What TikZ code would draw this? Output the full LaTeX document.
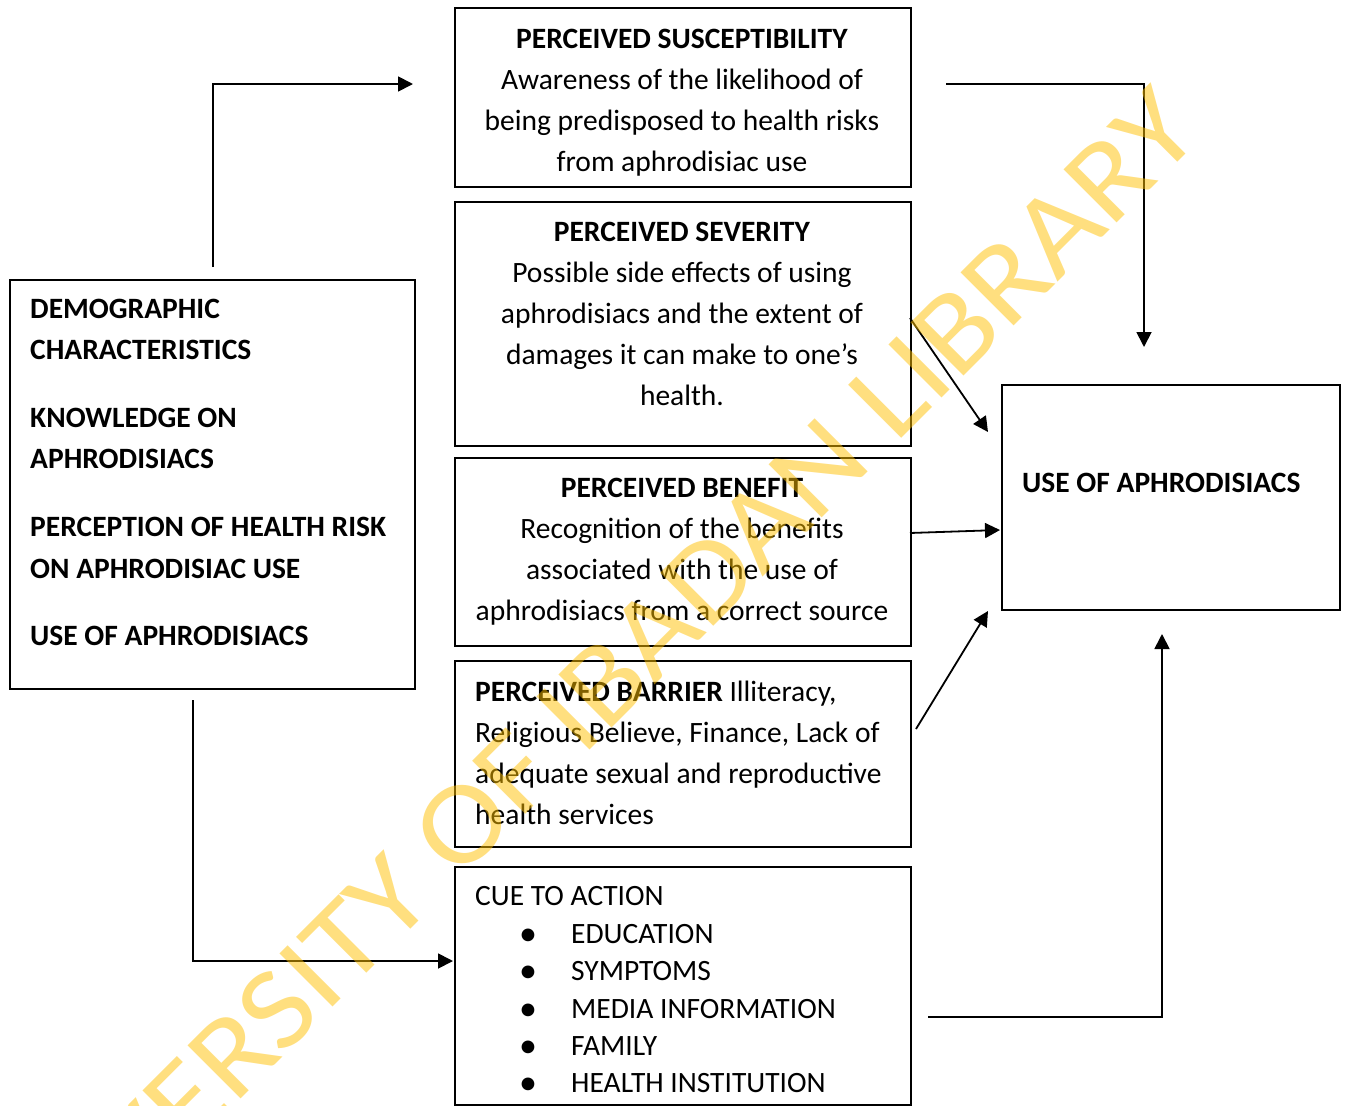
\documentclass[tikz,border=0pt]{standalone}
\usepackage{fontspec}
\setmainfont{Carlito}
\usetikzlibrary{arrows.meta}
\definecolor{wm}{RGB}{255,192,0}
\newcommand{\mybul}{{\fontsize{36}{36}\selectfont\textbullet}}
\newcommand{\cueitem}[1]{\hspace*{53pt}\makebox[0pt]{\raisebox{-2pt}{\mybul}}\hspace*{43pt}#1}
\begin{document}
\begin{tikzpicture}[x=1pt,y=-1pt,
  box/.style={draw, line width=1.8pt, inner sep=0pt, anchor=north west},
  txt/.style={inner sep=0pt, font=\fontsize{29.5}{41}\selectfont},
  arr/.style={line width=1.8pt, -{Triangle[length=15pt,width=15pt]}}]
\useasboundingbox[fill=white] (0,0) rectangle (1345,1106);
% boxes
\node[box, minimum width=456pt, minimum height=179pt] (sus) at (454,7) {};
\node[box, minimum width=456pt, minimum height=244pt] (sev) at (454,201) {};
\node[box, minimum width=456pt, minimum height=188pt] (ben) at (454,457) {};
\node[box, minimum width=456pt, minimum height=186pt] (bar) at (454,660) {};
\node[box, minimum width=456pt, minimum height=238pt] (cue) at (454,866) {};
\node[box, minimum width=405pt, minimum height=409pt] (demo) at (9,279) {};
\node[box, minimum width=338pt, minimum height=225pt] (use) at (1001,384) {};
% texts
\node[txt, align=center, anchor=north] (sust) at (682,28.5)
  {\textbf{PERCEIVED SUSCEPTIBILITY}\\Awareness of the likelihood of\\being predisposed to health risks\\from aphrodisiac use};
\node[txt, align=center, anchor=north] (sevt) at (682,221.5)
  {\textbf{PERCEIVED SEVERITY}\\Possible side effects of using\\aphrodisiacs and the extent of\\damages it can make to one’s\\health.};
\node[txt, align=center, anchor=north] (bent) at (682,477.5)
  {\textbf{PERCEIVED BENEFIT}\\Recognition of the benefits\\associated with the use of\\aphrodisiacs from a correct source};
\node[txt, align=left, anchor=north west] (bart) at (475,680.5)
  {\textbf{PERCEIVED BARRIER} Illiteracy,\\Religious Believe, Finance, Lack of\\adequate sexual and reproductive\\health services};
\node[txt, align=left, anchor=north west, font=\fontsize{29.5}{37.4}\selectfont] (cuet) at (475,886.5)
  {CUE TO ACTION\\\cueitem{EDUCATION}\\\cueitem{SYMPTOMS}\\\cueitem{MEDIA INFORMATION}\\\cueitem{FAMILY}\\\cueitem{HEALTH INSTITUTION}};
\node[txt, align=left, anchor=north west, font=\fontsize{29.5}{41.7}\selectfont\bfseries] (demot) at (30,298.5)
  {DEMOGRAPHIC\\CHARACTERISTICS\\[25.8pt]KNOWLEDGE ON\\APHRODISIACS\\[25.8pt]PERCEPTION OF HEALTH RISK\\ON APHRODISIAC USE\\[25.8pt]USE OF APHRODISIACS};
\node[txt, anchor=north west, font=\fontsize{29.5}{41}\selectfont\bfseries] (uset) at (1022,472.5)
  {USE OF APHRODISIACS};
% connectors
\coordinate (a1s) at (213,267); \coordinate (a1e) at (413,84);
\coordinate (a2s) at (946,84);  \coordinate (a2e) at (1144,347);
\coordinate (a3s) at (910,318); \coordinate (a3e) at (988,432);
\coordinate (a4s) at (910,533); \coordinate (a4e) at (1000,530);
\coordinate (a5s) at (916,729); \coordinate (a5e) at (988,611);
\coordinate (a6s) at (928,1017); \coordinate (a6e) at (1162,634);
\coordinate (a7s) at (193,700); \coordinate (a7e) at (453,961);
\draw[arr] (a1s) |- (a1e);
\draw[arr] (a2s) -| (a2e);
\draw[arr] (a3s) -- (a3e);
\draw[arr] (a4s) -- (a4e);
\draw[arr] (a5s) -- (a5e);
\draw[arr] (a6s) -| (a6e);
\draw[arr] (a7s) |- (a7e);
% watermark
\node[inner sep=0pt, rotate=45, xscale=1.11, anchor=base east, text=wm, text opacity=0.5,
  font=\fontsize{117}{117}\selectfont] (wmark) at (1204,136) {UNIVERSITY OF IBADAN LIBRARY};
\end{tikzpicture}
\end{document}
